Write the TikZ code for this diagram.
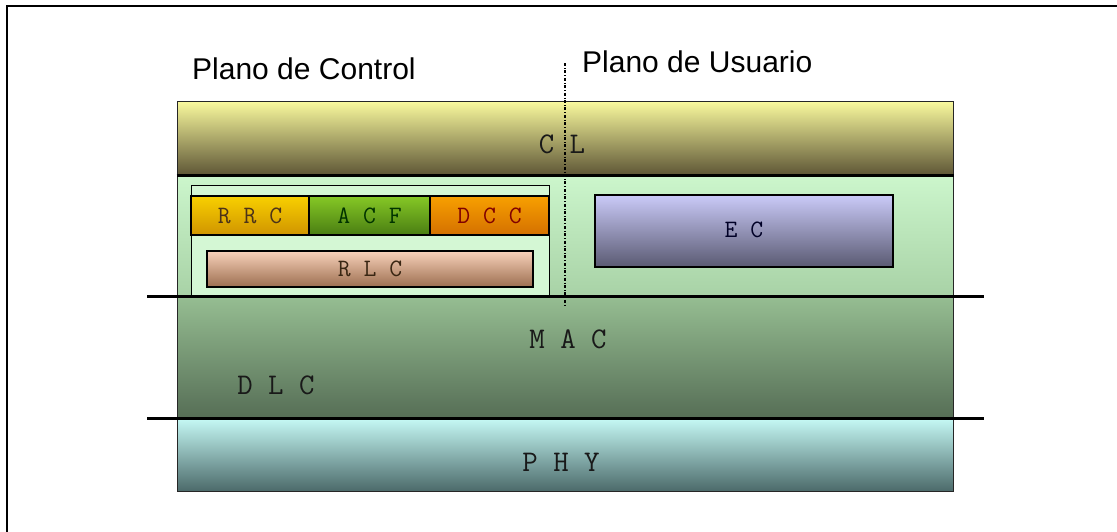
\documentclass[tikz,border=0pt]{standalone}
\usepackage{fontspec}
\usepackage{tikz}
\setmainfont{Liberation Sans}
\usetikzlibrary{positioning}
\definecolor{clTop}{HTML}{FAFA9E}
\definecolor{clBot}{HTML}{5E5636}
\definecolor{dlcTop}{HTML}{CCF6CC}
\definecolor{dlcBot}{HTML}{A8D2A6}
\definecolor{macTop}{HTML}{96BE92}
\definecolor{macBot}{HTML}{566E56}
\definecolor{phyTop}{HTML}{C6FAF6}
\definecolor{phyBot}{HTML}{4C6A6A}
\definecolor{rrcTop}{HTML}{F8D000}
\definecolor{rrcBot}{HTML}{D09400}
\definecolor{acfTop}{HTML}{86C826}
\definecolor{acfBot}{HTML}{4A7E12}
\definecolor{dccTop}{HTML}{F8A000}
\definecolor{dccBot}{HTML}{D47000}
\definecolor{rlcTop}{HTML}{F8D2BA}
\definecolor{rlcBot}{HTML}{9C6E50}
\definecolor{ecTop}{HTML}{CACAF8}
\definecolor{ecBot}{HTML}{5A5A72}
\tikzset{layer/.style 2 args = {draw = black!85, line width = 1, inner sep = 0,
                                minimum width = #1, minimum height = #2}}
\tikzset{block/.style 2 args = {draw = black, line width = 1.3, inner sep = 0,
                                minimum width = #1, minimum height = #2}}
\tikzset{tag/.style = {font = \ttfamily\fontsize{30}{30}\selectfont, text = black!90, inner sep = 0}}
\tikzset{small tag/.style = {font = \ttfamily\fontsize{25}{25}\selectfont, inner sep = 0}}
\tikzset{plane/.style = {font = \fontsize{30}{30}\selectfont, inner sep = 0, anchor = base west}}
\tikzset{sep/.style = {line width = 3}}

\begin{document}
\begin{tikzpicture}[x = 1pt, y = -1pt]
      \useasboundingbox (0, 0) rectangle (1117, 531);
      \draw [line width = 2.5] (7, 535) -- (7, 6) -- (1120, 6);

      \node [plane] (control) at (192, 79) {Plano de Control};
      \node [plane] (usuario) at (582, 72) {Plano de Usuario};

      \node [layer = {776}{74}, top color = clTop, bottom color = clBot] (cl) at (565, 138) {};
      \node [layer = {776}{121}, top color = dlcTop, bottom color = dlcBot] (dlc) at (565, 235.5) {};
      \node [layer = {776}{122}, top color = macTop, bottom color = macBot] (mac) at (565, 357) {};
      \node [layer = {776}{73}, top color = phyTop, bottom color = phyBot] (phy) at (565, 454.5) {};
      \draw [sep] (cl.south west) -- (cl.south east);

      \node [tag] (cl text) at (562, 144) {C L};
      \node [tag] (mac text) at (568, 339) {M A C};
      \node [tag] (dlc text) at (276, 385) {D L C};
      \node [tag] (phy text) at (561, 462) {P H Y};

      \node [block = {358}{111}, fill = dlcTop!85!white, line width = 1] (ctrl) at (370, 240.5) {};
      \node [block = {118}{39}, top color = rrcTop, bottom color = rrcBot,
             small tag, text = brown!40!black] (rrc) at (250, 215.5) {R R C};
      \node [block = {121}{39}, top color = acfTop, bottom color = acfBot,
             small tag, text = green!20!black] (acf) at (369.5, 215.5) {A C F};
      \node [block = {119}{39}, top color = dccTop, bottom color = dccBot,
             small tag, text = red!50!black] (dcc) at (489.5, 215.5) {D C C};
      \node [block = {326}{36}, top color = rlcTop, bottom color = rlcBot,
             small tag, text = brown!30!black, text depth = -4] (rlc) at (370, 269) {R L C};
      \node [block = {298}{72}, top color = ecTop, bottom color = ecBot,
             small tag, text = blue!15!black, text depth = 3] (ec) at (744, 231) {E C};

      \foreach \y in {296, 418} {
        \draw [sep] (147, \y) -- (984, \y);
      }

      \coordinate (split top) at (565, 63);
      \coordinate (split bottom) at (565, 306);
      \draw [dash dot, line width = 1.3] (split top) -- (split bottom);
\end{tikzpicture}
\end{document}
